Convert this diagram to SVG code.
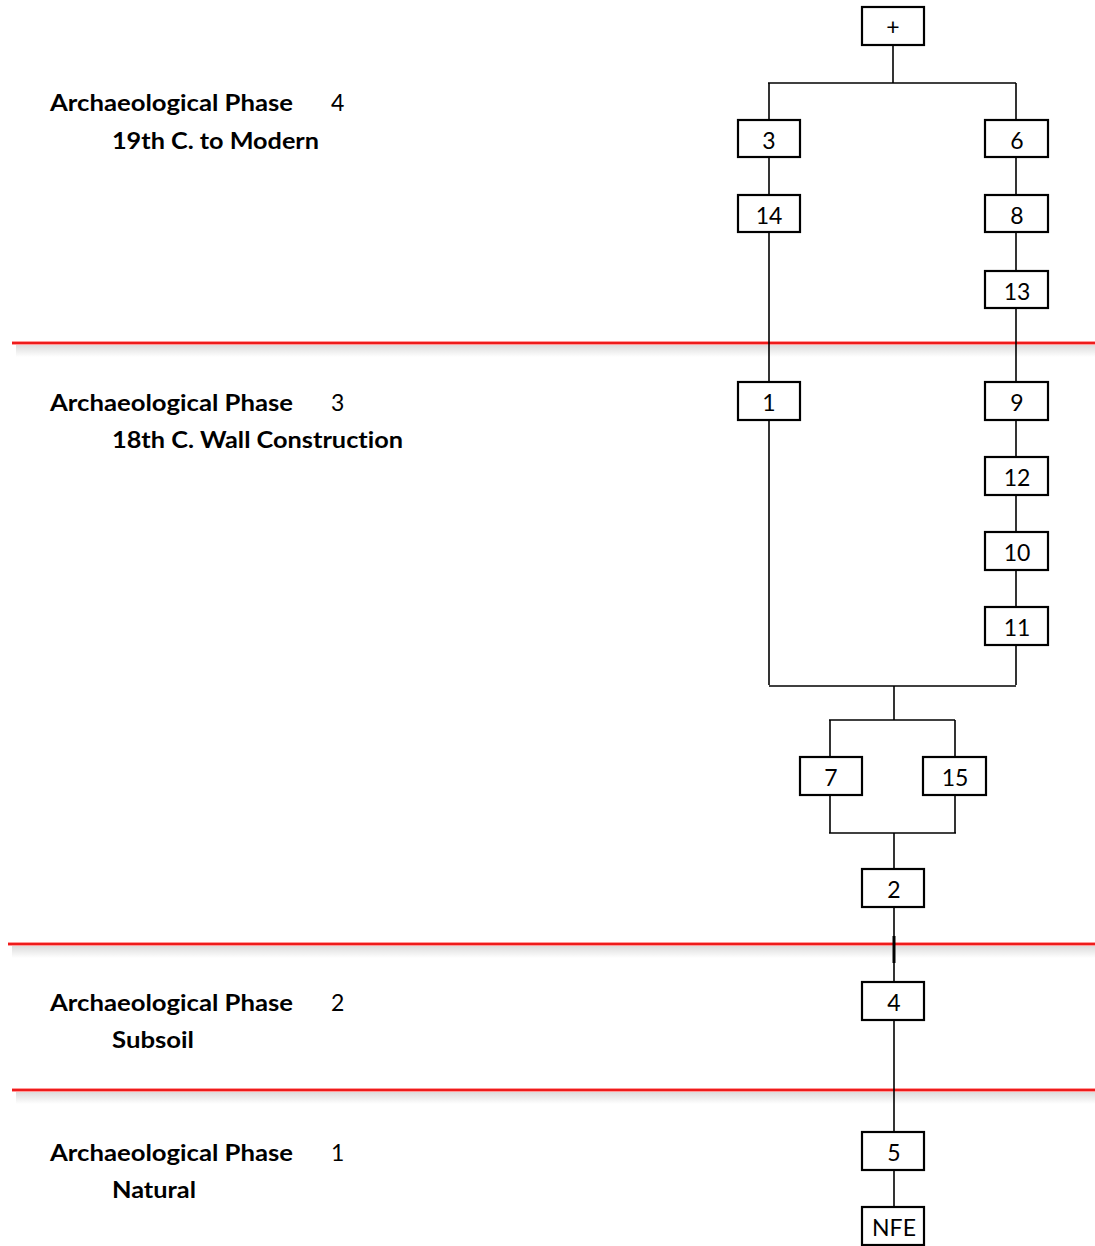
<svg xmlns="http://www.w3.org/2000/svg" width="1095" height="1246" viewBox="0 0 1095 1246">
<defs>
<style>
.box{fill:#fff;stroke:#000;stroke-width:2.2}
.bt{font-family:Lato,"Open Sans","Liberation Sans",Arial,sans-serif;font-size:23px;fill:#000;text-anchor:middle}
.conn line{stroke:#000;stroke-width:1.6}
.ph{font-family:Lato,"Open Sans","Liberation Sans",Arial,sans-serif;font-size:23px;fill:#000;font-variant-ligatures:none}
.b{font-weight:bold}
.halo{stroke:#ff9a9a;stroke-width:4}
.red{stroke:#ee1c1c;stroke-width:1.8}
</style>
<linearGradient id="sh" x1="0" y1="0" x2="0" y2="1">
<stop offset="0" stop-color="#dcdcdc"/>
<stop offset="1" stop-color="#ffffff"/>
</linearGradient>
</defs>
<rect width="1095" height="1246" fill="#fff"/>
<g id="phase-lines">
<rect x="16" y="345" width="1079" height="12" fill="url(#sh)"/>
<line class="halo" x1="12" y1="343" x2="1095" y2="343"/>
<line class="red" x1="12" y1="343" x2="1095" y2="343"/>
<rect x="12" y="946" width="1083" height="12" fill="url(#sh)"/>
<line class="halo" x1="8" y1="944" x2="1095" y2="944"/>
<line class="red" x1="8" y1="944" x2="1095" y2="944"/>
<rect x="16" y="1092" width="1079" height="12" fill="url(#sh)"/>
<line class="halo" x1="12" y1="1090" x2="1095" y2="1090"/>
<line class="red" x1="12" y1="1090" x2="1095" y2="1090"/>
</g>
<g id="labels">
<g id="phase4"><text class="ph b" x="50" y="111" textLength="243" lengthAdjust="spacingAndGlyphs">Archaeological Phase</text><text class="ph" x="331" y="111">4</text><text class="ph b" x="112" y="149" textLength="207" lengthAdjust="spacingAndGlyphs">19th C. to Modern</text></g>
<g id="phase3"><text class="ph b" x="50" y="411" textLength="243" lengthAdjust="spacingAndGlyphs">Archaeological Phase</text><text class="ph" x="331" y="411">3</text><text class="ph b" x="112" y="448" textLength="291" lengthAdjust="spacingAndGlyphs">18th C. Wall Construction</text></g>
<g id="phase2"><text class="ph b" x="50" y="1011" textLength="243" lengthAdjust="spacingAndGlyphs">Archaeological Phase</text><text class="ph" x="331" y="1011">2</text><text class="ph b" x="112" y="1048" textLength="82" lengthAdjust="spacingAndGlyphs">Subsoil</text></g>
<g id="phase1"><text class="ph b" x="50" y="1161" textLength="243" lengthAdjust="spacingAndGlyphs">Archaeological Phase</text><text class="ph" x="331" y="1161">1</text><text class="ph b" x="112" y="1198" textLength="84" lengthAdjust="spacingAndGlyphs">Natural</text></g>
</g>
<g id="connectors" class="conn">
<line x1="893" y1="45" x2="893" y2="83"/>
<line x1="768" y1="83" x2="1016" y2="83"/>
<line x1="769" y1="83" x2="769" y2="120"/>
<line x1="1016" y1="83" x2="1016" y2="120"/>
<line x1="769" y1="157" x2="769" y2="195"/>
<line x1="769" y1="232" x2="769" y2="382"/>
<line x1="769" y1="420" x2="769" y2="685"/>
<line x1="1016" y1="157" x2="1016" y2="195"/>
<line x1="1016" y1="232" x2="1016" y2="271"/>
<line x1="1016" y1="308" x2="1016" y2="382"/>
<line x1="1016" y1="420" x2="1016" y2="457"/>
<line x1="1016" y1="495" x2="1016" y2="532"/>
<line x1="1016" y1="570" x2="1016" y2="607"/>
<line x1="1016" y1="645" x2="1016" y2="685"/>
<line x1="769" y1="686" x2="1016" y2="686"/>
<line x1="894" y1="686" x2="894" y2="720"/>
<line x1="829" y1="720" x2="955" y2="720"/>
<line x1="830" y1="720" x2="830" y2="757"/>
<line x1="955" y1="720" x2="955" y2="757"/>
<line x1="830" y1="795" x2="830" y2="833"/>
<line x1="955" y1="795" x2="955" y2="833"/>
<line x1="829" y1="833" x2="956" y2="833"/>
<line x1="894" y1="833" x2="894" y2="869"/>
<line x1="894" y1="907" x2="894" y2="982"/>
<line x1="894" y1="936" x2="894" y2="963" style="stroke-width:3"/>
<line x1="894" y1="1020" x2="894" y2="1132"/>
<line x1="894" y1="1170" x2="894" y2="1207"/>
</g>
<g id="node-plus"><rect class="box" x="862" y="7" width="62" height="38"/><text class="bt" x="893" y="35">+</text></g>
<g id="node-3"><rect class="box" x="738" y="120" width="62" height="37"/><text class="bt" x="769" y="149">3</text></g>
<g id="node-6"><rect class="box" x="985" y="120" width="63" height="37"/><text class="bt" x="1017" y="149">6</text></g>
<g id="node-14"><rect class="box" x="738" y="195" width="62" height="37"/><text class="bt" x="769" y="224">14</text></g>
<g id="node-8"><rect class="box" x="985" y="195" width="63" height="37"/><text class="bt" x="1017" y="224">8</text></g>
<g id="node-13"><rect class="box" x="985" y="271" width="63" height="37"/><text class="bt" x="1017" y="300">13</text></g>
<g id="node-1"><rect class="box" x="738" y="382" width="62" height="38"/><text class="bt" x="769" y="411">1</text></g>
<g id="node-9"><rect class="box" x="985" y="382" width="63" height="38"/><text class="bt" x="1017" y="411">9</text></g>
<g id="node-12"><rect class="box" x="985" y="457" width="63" height="38"/><text class="bt" x="1017" y="486">12</text></g>
<g id="node-10"><rect class="box" x="985" y="532" width="63" height="38"/><text class="bt" x="1017" y="561">10</text></g>
<g id="node-11"><rect class="box" x="985" y="607" width="63" height="38"/><text class="bt" x="1017" y="636">11</text></g>
<g id="node-7"><rect class="box" x="800" y="757" width="62" height="38"/><text class="bt" x="831" y="786">7</text></g>
<g id="node-15"><rect class="box" x="923" y="757" width="63" height="38"/><text class="bt" x="955" y="786">15</text></g>
<g id="node-2"><rect class="box" x="862" y="869" width="62" height="38"/><text class="bt" x="894" y="898">2</text></g>
<g id="node-4"><rect class="box" x="862" y="982" width="62" height="38"/><text class="bt" x="894" y="1011">4</text></g>
<g id="node-5"><rect class="box" x="862" y="1132" width="62" height="38"/><text class="bt" x="894" y="1161">5</text></g>
<g id="node-nfe"><rect class="box" x="862" y="1207" width="62" height="38"/><text class="bt" x="894" y="1236">NFE</text></g>
</svg>
